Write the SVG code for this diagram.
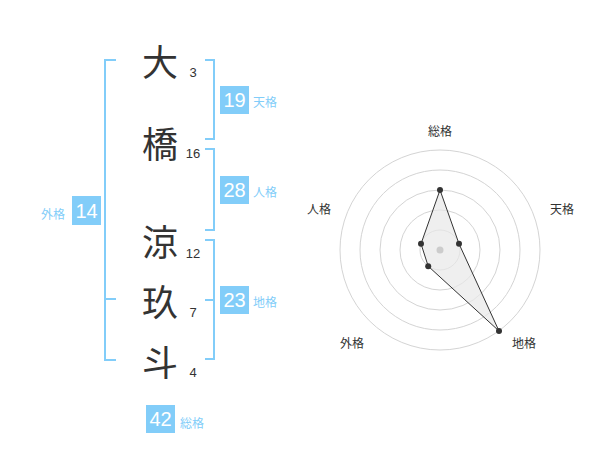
<svg xmlns="http://www.w3.org/2000/svg" width="600" height="470" viewBox="0 0 600 470">
<style>
.kanji{font-family:"Noto Sans CJK JP","Noto Sans CJK SC",sans-serif;font-size:36px;fill:#333;text-anchor:middle;dominant-baseline:central}
.stroke{font-family:"Liberation Sans",Arial,sans-serif;font-size:13px;fill:#333;text-anchor:middle}
.br{fill:none;stroke:#82cdf9;stroke-width:2}
.box{fill:#82cdf9}
.boxnum{font-family:"Liberation Sans",Arial,sans-serif;font-size:20px;fill:#fff;text-anchor:middle;dominant-baseline:central}
.lbl{font-family:"Noto Sans CJK JP","Noto Sans CJK SC",sans-serif;font-size:12px;fill:#82cdf9;dominant-baseline:central}
.ring{fill:none;stroke:#d4d4d4;stroke-width:1}
.axis{font-family:"Noto Sans CJK JP","Noto Sans CJK SC",sans-serif;font-size:12px;fill:#333;text-anchor:middle;dominant-baseline:central}
.pt{fill:#333}
</style>
<rect width="600" height="470" fill="#fff"/>
<g id="chars">
<g id="c1"><text class="kanji" x="160" y="60">大</text><text class="stroke" x="193" y="77">3</text></g>
<g id="c2"><text class="kanji" x="160" y="142">橋</text><text class="stroke" x="193" y="158">16</text></g>
<g id="c3"><text class="kanji" x="160" y="240">涼</text><text class="stroke" x="193" y="258">12</text></g>
<g id="c4"><text class="kanji" x="160" y="300">玖</text><text class="stroke" x="193" y="317">7</text></g>
<g id="c5"><text class="kanji" x="160" y="360">斗</text><text class="stroke" x="193" y="377">4</text></g>
</g>
<g id="connectors">
<path class="br" d="M116,60 H105 V360 H116 M105,299 H116"/>
<path class="br" d="M205,60 H214 V139 H205"/>
<path class="br" d="M205,149 H214 V230 H205"/>
<path class="br" d="M205,240 H214 V359 H205 M214,300 H205"/>
</g>
<g id="tenkaku"><rect class="box" x="220" y="86" width="29" height="28"/><text class="boxnum" x="234.5" y="100">19</text><text class="lbl" x="253" y="101">天格</text></g>
<g id="jinkaku"><rect class="box" x="220" y="176" width="29" height="28"/><text class="boxnum" x="234.5" y="190">28</text><text class="lbl" x="253" y="191">人格</text></g>
<g id="chikaku"><rect class="box" x="220" y="286" width="29" height="28"/><text class="boxnum" x="234.5" y="300">23</text><text class="lbl" x="253" y="301">地格</text></g>
<g id="gaikaku"><rect class="box" x="72" y="196" width="29" height="29"/><text class="boxnum" x="86.5" y="210.5">14</text><text class="lbl" x="41" y="213">外格</text></g>
<g id="soukaku"><rect class="box" x="146" y="405" width="29" height="28"/><text class="boxnum" x="160.5" y="419">42</text><text class="lbl" x="180" y="422">総格</text></g>
<g id="radar">
<circle class="ring" cx="440" cy="250" r="20"/>
<circle class="ring" cx="440" cy="250" r="40"/>
<circle class="ring" cx="440" cy="250" r="60"/>
<circle class="ring" cx="440" cy="250" r="80"/>
<circle class="ring" cx="440" cy="250" r="100"/>
<polygon points="440,190 459,243.8 499,331 428.2,266.2 421,243.8" fill="#e8e8e8" fill-opacity="0.7" stroke="#333" stroke-width="1"/>
<circle cx="440" cy="250" r="3.5" fill="#ccc"/>
<circle class="pt" cx="440" cy="190" r="3"/>
<circle class="pt" cx="459" cy="243.8" r="3"/>
<circle class="pt" cx="499" cy="331" r="3"/>
<circle class="pt" cx="428.2" cy="266.2" r="3"/>
<circle class="pt" cx="421" cy="243.8" r="3"/>
<text class="axis" x="440" y="130">総格</text>
<text class="axis" x="562" y="208">天格</text>
<text class="axis" x="524" y="342">地格</text>
<text class="axis" x="352" y="342">外格</text>
<text class="axis" x="319" y="208">人格</text>
</g>
</svg>
